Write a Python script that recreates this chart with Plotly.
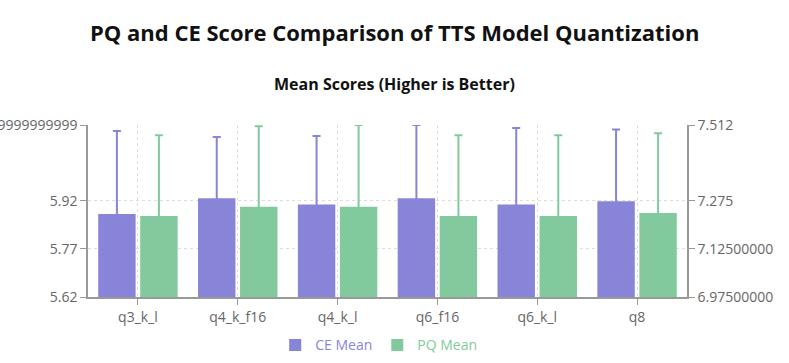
import plotly.graph_objects as go

categories = ["q3_k_l", "q4_k_f16", "q4_k_l", "q6_f16", "q6_k_l", "q8"]
ce_mean = [5.879, 5.9285, 5.9087, 5.9285, 5.9087, 5.919]
ce_std = [0.259, 0.191, 0.214, 0.2285, 0.239, 0.224]
pq_mean = [7.2276, 7.2565, 7.2565, 7.2276, 7.2276, 7.237]
pq_std = [0.2526, 0.2515, 0.2555, 0.2524, 0.2524, 0.249]

left_ticks = [5.62, 5.77, 5.92, 6.157]
left_text = ["5.62", "5.77", "5.92", "6.156999999999999"]
right_ticks = [6.975, 7.125, 7.275, 7.512]
right_text = ["6.97500000", "7.12500000", "7.275", "7.512"]

CE_COLOR = "#8884d8"
PQ_COLOR = "#82ca9d"
AXIS_COLOR = "#999999"
FONT = "Open Sans, Noto Sans, sans-serif"
TICK_FONT = dict(family=FONT, size=14, color="#666666")

PLOT_LEFT, PLOT_RIGHT = 88.3, 687.3
PLOT_TOP, PLOT_BOTTOM = 124.7, 296.7
PLOT_H = PLOT_BOTTOM - PLOT_TOP
PLOT_W = PLOT_RIGHT - PLOT_LEFT


def paper_y(py):
    return (PLOT_BOTTOM - py) / PLOT_H


def paper_x(px):
    return (px - PLOT_LEFT) / PLOT_W


fig = go.Figure()
fig.add_trace(go.Bar(
    x=categories, y=ce_mean, name='<span style="color:#8884d8">CE Mean</span>',
    marker=dict(color=CE_COLOR, line=dict(width=0)),
    width=0.375, offset=-0.398,
    error_y=dict(type="data", array=ce_std, color=CE_COLOR, thickness=2, width=4),
    yaxis="y",
))
fig.add_trace(go.Bar(
    x=categories, y=pq_mean, name='<span style="color:#82ca9d">PQ Mean</span>',
    marker=dict(color=PQ_COLOR, line=dict(width=0)),
    width=0.375, offset=0.023,
    error_y=dict(type="data", array=pq_std, color=PQ_COLOR, thickness=2, width=4),
    yaxis="y2",
))

fig.update_layout(
    width=789, height=363,
    margin=dict(l=PLOT_LEFT, r=789 - PLOT_RIGHT, t=PLOT_TOP, b=363 - PLOT_BOTTOM, autoexpand=False),
    paper_bgcolor="white", plot_bgcolor="white",
    font=dict(family=FONT, color="#666666"),
    barmode="overlay",
    showlegend=True,
    legend=dict(orientation="h", x=paper_x(379), xanchor="center", y=paper_y(329), yanchor="top",
                font=dict(size=14), itemwidth=30, traceorder="normal",
                bgcolor="rgba(0,0,0,0)"),
    xaxis=dict(
        type="category", showline=True, linecolor=AXIS_COLOR, linewidth=1.5,
        ticks="outside", ticklen=6, tickcolor=AXIS_COLOR, tickfont=TICK_FONT,
        showgrid=True, gridcolor="#dddddd", griddash="3px,3px", gridwidth=1,
        range=[-0.5, 5.5],
    ),
    yaxis=dict(
        range=[5.62, 6.157], tickvals=left_ticks, ticktext=left_text,
        showline=True, linecolor=AXIS_COLOR, linewidth=1.5,
        ticks="outside", ticklen=6, tickcolor=AXIS_COLOR, tickfont=TICK_FONT,
        showgrid=True, gridcolor="#dddddd", griddash="3px,3px", gridwidth=1,
        zeroline=False, automargin=False,
    ),
    yaxis2=dict(
        range=[6.975, 7.512], tickvals=right_ticks, ticktext=right_text,
        overlaying="y", side="right",
        showline=True, linecolor=AXIS_COLOR, linewidth=1.5,
        ticks="outside", ticklen=6, tickcolor=AXIS_COLOR, tickfont=TICK_FONT,
        showgrid=False, zeroline=False, automargin=False,
    ),
    annotations=[
        dict(text="<b>PQ and CE Score Comparison of TTS Model Quantization</b>",
             x=paper_x(394.5), xref="paper", xanchor="center",
             y=paper_y(32), yref="paper", yanchor="middle", showarrow=False,
             font=dict(size=22, color="#111111", family=FONT)),
        dict(text="<b>Mean Scores (Higher is Better)</b>",
             x=paper_x(394.5), xref="paper", xanchor="center",
             y=paper_y(84), yref="paper", yanchor="middle", showarrow=False,
             font=dict(size=16, color="#111111", family=FONT)),
    ],
)

fig.write_html("out.html", config={"displayModeBar": False},
               post_script="document.body.style.margin='0px';")
